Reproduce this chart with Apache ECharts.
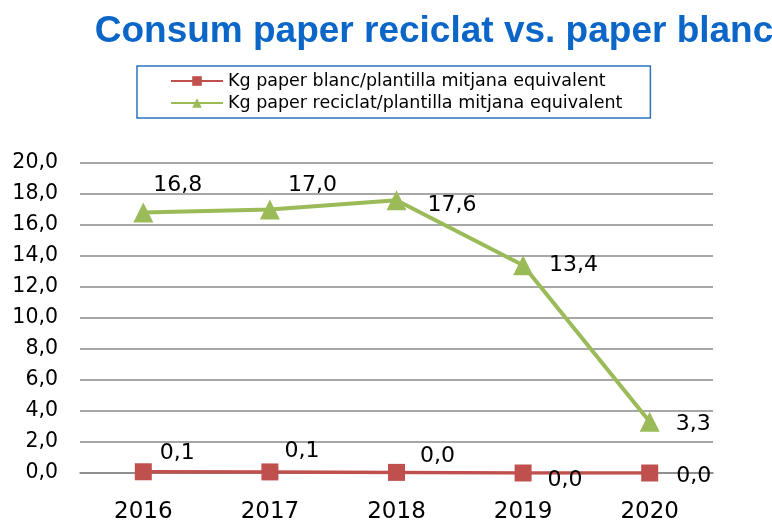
<!DOCTYPE html>
<html>
<head>
<meta charset="utf-8">
<script src="https://cdn.jsdelivr.net/npm/echarts@6/dist/echarts.min.js"></script>
<style>
  html, body { margin: 0; padding: 0; background: #fff; }
  #chart { width: 772px; height: 524px; }
</style>
</head>
<body>
<div id="chart"></div>
<script>
const years = ['2016', '2017', '2018', '2019', '2020']
const blancName = 'Kg paper blanc/plantilla mitjana equivalent'
const reciclatName = 'Kg paper reciclat/plantilla mitjana equivalent'
const blancValues = [0.08, 0.07, 0.04, 0.0, 0.0]
const reciclatValues = [16.8, 17.0, 17.6, 13.4, 3.3]

// label placement per point, as in the original
const reciclatLabelPos = [[-5, -27], [3, -24], [16, 5], [11, 0], [11, 2]]
const blancLabelPos = [[3, -18], [1, -21], [10, -16], [11, 7], [13, 3]]

const fmt = v => v.toFixed(1).replace('.', ',')

const labelStyle = {
  fontFamily: 'DejaVu Sans',
  fontSize: 22,
  color: '#000'
}

const myChart = echarts.init(document.getElementById('chart'))
myChart.setOption({
  animation: false,
  title: {
    text: 'Consum paper reciclat vs. paper blanc',
    left: 429,
    textAlign: 'center',
    top: 8,
    textStyle: {
      fontFamily: 'Liberation Sans',
      fontWeight: 'bold',
      fontSize: 37,
      color: '#0b66c8'
    }
  },
  legend: {
    orient: 'vertical',
    left: 137,
    top: 66,
    padding: [6, 28, 6, 33],
    itemGap: 4,
    itemWidth: 52,
    itemHeight: 12,
    borderColor: '#2b74c0',
    borderWidth: 1.5,
    textStyle: { fontFamily: 'DejaVu Sans', fontSize: 17.5, color: '#000' },
    data: [blancName, reciclatName]
  },
  grid: { left: 80, right: 59, top: 163, bottom: 50 },
  xAxis: {
    type: 'category',
    data: years,
    axisLine: { lineStyle: { color: '#888', width: 1.5 } },
    axisTick: { length: 6, lineStyle: { color: '#888' } },
    axisLabel: { fontFamily: 'DejaVu Sans', fontSize: 23, color: '#000', margin: 28 }
  },
  yAxis: {
    type: 'value',
    min: 0,
    max: 20,
    interval: 2,
    axisLine: { show: false },
    axisLabel: {
      fontFamily: 'DejaVu Sans',
      fontSize: 20.5,
      color: '#000',
      margin: 22,
      formatter: v => fmt(v)
    },
    splitLine: { lineStyle: { color: '#8a8a8a', width: 1.5 } }
  },
  series: [
    {
      name: blancName,
      type: 'line',
      data: blancValues.map((v, i) => ({
        value: v,
        label: { offset: blancLabelPos[i] }
      })),
      symbol: 'rect',
      symbolSize: 17,
      z: 3,
      itemStyle: { color: '#c0504d' },
      lineStyle: { color: '#c0504d', width: 3.5 },
      label: {
        show: true,
        position: 'right',
        formatter: p => fmt(p.value),
        ...labelStyle
      }
    },
    {
      name: reciclatName,
      type: 'line',
      data: reciclatValues.map((v, i) => ({
        value: v,
        label: { offset: reciclatLabelPos[i] }
      })),
      symbol: 'triangle',
      symbolSize: 20,
      itemStyle: { color: '#9bbb59' },
      lineStyle: { color: '#9bbb59', width: 4 },
      label: {
        show: true,
        position: 'right',
        formatter: p => fmt(p.value),
        ...labelStyle
      }
    }
  ]
})
</script>
</body>
</html>
